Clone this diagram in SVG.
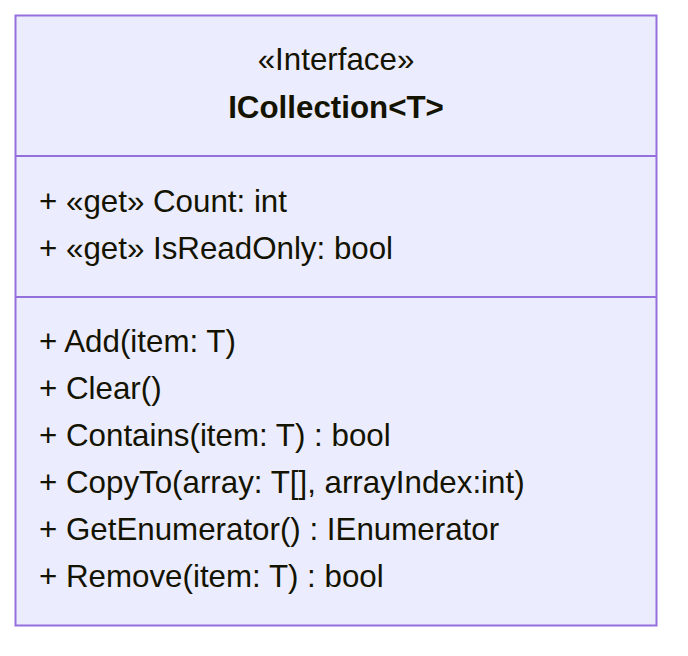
<svg xmlns="http://www.w3.org/2000/svg" width="688" height="656" viewBox="0 0 688 656">
<style>
.box{fill:#ECECFF;stroke:#9370DB;stroke-width:2}
.div{stroke:#9370DB;stroke-width:2}
text{font-family:"Liberation Sans",Arial,sans-serif;font-size:31.3px;fill:#131300}
.c{text-anchor:middle}
.b{font-weight:bold}
</style>
<rect width="688" height="656" fill="#ffffff"/>
<g id="ICollection">
<rect class="box" x="15.5" y="15.5" width="641" height="610"/>
<line class="div" x1="15.5" y1="156" x2="656.5" y2="156"/>
<line class="div" x1="15.5" y1="297" x2="656.5" y2="297"/>
<text class="c" x="336" y="70">«Interface»</text>
<text class="c b" x="336" y="117.5">ICollection&lt;T&gt;</text>
<text x="39" y="211.5">+ «get» Count: int</text>
<text x="39" y="258.5">+ «get» IsReadOnly: bool</text>
<text x="39" y="351.5">+ Add(item: T)</text>
<text x="39" y="398.5">+ Clear()</text>
<text x="39" y="445.5">+ Contains(item: T) : bool</text>
<text x="39" y="492.5">+ CopyTo(array: T[], arrayIndex:int)</text>
<text x="39" y="539.5">+ GetEnumerator() : IEnumerator</text>
<text x="39" y="586.5">+ Remove(item: T) : bool</text>
</g>
<g id="connectors"/>
</svg>
